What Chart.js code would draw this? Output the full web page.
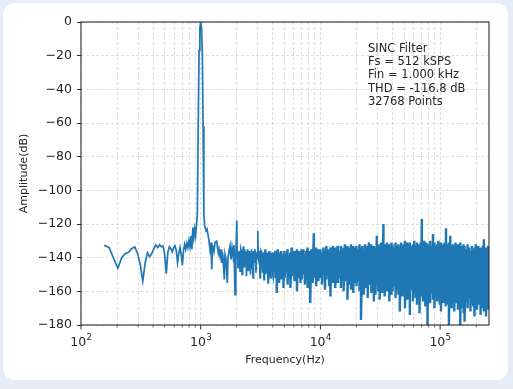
<!DOCTYPE html>
<html><head><meta charset="utf-8">
<script src="https://cdn.jsdelivr.net/npm/chart.js@4.4.1/dist/chart.umd.min.js"></script>
<style>
html,body{margin:0;padding:0;background:#e7edf6;width:513px;height:389px;overflow:hidden}
#card{position:absolute;left:3px;top:3px;width:505px;height:377px;background:#fff;border-radius:12px}
#wrap{position:absolute;left:0;top:0;width:513px;height:389px}
</style></head><body>
<div id="card"></div>
<div id="wrap"><canvas id="c" width="513" height="389"></canvas></div>
<script>
// ---- data ----
const fsHz = 512000, nfft = 32768;
const binHz = fsHz / nfft; // 15.625 Hz FFT bin spacing

// low-frequency FFT bins (individually visible) incl. the 1 kHz tone
const lowBins = [10,11,12,13,14,15,16,17,18,19,20,21,22,23,24,25,26,27,28,29,30,31,32,33,34,35,36,37,38,39,40,41,42,43,44,45,46,47,48,49,50,51,52,53,54,55,56,57,58,59,60,61,62,63,64,65,66,67,68,69];
const lowDb = [-132.7,-134.0,-140.5,-146.3,-140.0,-137.5,-136.8,-134.5,-133.6,-137.5,-144.0,-154.0,-143.0,-137.0,-139.5,-137.5,-134.5,-132.5,-134.0,-132.3,-133.5,-133.0,-138.0,-149.5,-137.0,-133.5,-134.5,-136.5,-134.0,-133.0,-135.5,-143.0,-137.5,-134.0,-138.0,-144.5,-136.0,-132.0,-135.0,-131.5,-134.0,-130.0,-133.5,-127.0,-135.0,-122.0,-128.0,-123.0,-127.0,-121.0,-114.0,-62.0,-17.0,-3.5,0,-3.5,-17.0,-62.0,-114.0,-121.0];

// 1.1 kHz - 4 kHz
const midHz = [1107,1129,1157,1173,1196,1219,1236,1255,1274,1292,1317,1360,1382,1403,1422,1450,1478,1498,1521,1536,1575,1596,1627,1668,1691,1724,1757,1791,1826,1862,1898,1935,1965,
 2000,2015,2030,2050,2069,2090,2109,2130,2150,2170,2192,2215,2235,2250,2269,2290,2313,2330,2345,2365,2390,2410,2437,2460,2484,2505,2532,2555,2581,2605,2632,2650,2667,2690,2709,2735,2761,2790,2815,2840,2869,2895,2925,2960,
 3000,3020,3041,3070,3099,3130,3159,3195,3233,3260,3283,3315,3347,3380,3412,3445,3478,3510,3546,3580,3615,3650,3685,3720,3756,3790,3829,3865,3904,3950];
const midDb = [-124,-123,-127.3,-130,-135.3,-131,-147,-133,-133.3,-136,-131,-130.3,-134,-137.2,-135,-139,-135,-143.2,-137,-140,-153,-138,-141,-155,-140,-136,-133,-141,-134,-139,-132.5,-162,-140,
 -118,-136,-138,-146,-142,-137,-136,-148,-141,-135,-137,-150,-143,-137,-133.3,-146,-139,-135,-145,-139,-136,-151,-141,-135,-137,-148,-142,-136,-138,-150,-140,-135,-147,-137,-139,-152,-136,-140,-143,-135,-138,-149,-140,-137,
 -124,-140,-141,-136,-139,-152,-145,-136,-137,-144,-149,-137,-139,-153,-142,-135,-136,-150,-144,-137,-140,-155,-146,-136,-138,-150,-152,-137,-140,-148];

// dense noise band above 4 kHz: per frequency slot, upper and lower extreme
const bandHz = [4000,4100,4200,4300,4400,4500,4600,4700,4800,4900,
 5000,5150,5300,5450,5600,5750,5900,6050,6200,6350,6500,6650,6800,6950,
 7000,7200,7400,7600,7800,8000,8200,8400,8600,8800,9000,9200,9400,9600,9800,
 10000,10300,10600,10900,11200,11500,11800,12100,12400,12700,13000,13300,13600,13900,
 14000,14400,14800,15200,15600,16000,16400,16800,17200,17600,18000,18400,18800,19200,19600,
 20000,20600,21200,21800,22400,23000,23600,24200,24800,25400,26000,26600,27200,27800,
 28000,28800,29600,30400,31200,32000,32800,33600,34400,35200,36000,36800,37600,38400,39200,
 40000,41200,42400,43600,44800,46000,47200,48400,49600,50800,52000,53200,54400,55600,
 56000,57600,59200,60800,62400,64000,65600,67200,68800,70400,72000,73600,75200,76800,78400,
 80000,82400,84800,87200,89600,92000,94400,96800,99200,101600,104000,106400,108800,111200,
 112000,115200,118400,121600,124800,128000,131200,134400,137600,140800,144000,147200,150400,153600,156800,
 160000,164800,169600,174400,179200,184000,188800,193600,198400,203200,208000,212800,217600,222400,227200,232000,236800,241600,246400,251200,256000];
const bandHi = [-137,-139,-136,-138,-135,-140,-137,-136,-139,-138,
 -136,-138,-135,-139,-137,-134,-138,-136,-139,-135,-137,-136,-138,-135,
 -137,-135,-138,-136,-134,-137,-136,-135,-137,-125.5,-136,-134,-137,-135,-136,
 -135,-137,-134,-136,-133,-135,-137,-134,-136,-133,-135,-134,-136,-133,
 -134,-136,-133,-135,-134,-132,-135,-133,-136,-134,-132,-135,-133,-134,-136,
 -133,-135,-132,-134,-133,-135,-132,-134,-133,-131,-134,-132,-135,-133,
 -133,-134,-127,-132,-133,-131,-134,-120,-132,-134,-131,-133,-132,-134,-131,
 -132,-134,-131,-133,-132,-134,-131,-133,-132,-130,-133,-131,-134,-132,
 -131,-133,-132,-130,-133,-131,-132,-134,-131,-117,-132,-130,-133,-131,-132,
 -132,-130,-133,-126,-131,-133,-132,-130,-133,-131,-132,-134,-131,-133,
 -122.5,-132,-131,-127,-133,-132,-134,-131,-133,-132,-134,-131,-133,-135,-132,
 -133,-135,-132,-134,-136,-133,-135,-134,-132,-135,-133,-136,-134,-135,-133,-129,-135,-134,-136,-133,-135];
const bandLo = [-150,-147,-152,-161,-149,-155,-148,-153,-151,-158,
 -152,-149,-156,-150,-158,-151,-147,-154,-150,-160,-152,-149,-155,-151,
 -153,-150,-156,-151,-158,-152,-167,-150,-155,-152,-149,-157,-151,-154,-150,
 -152,-156,-150,-159,-153,-151,-157,-163,-152,-155,-150,-158,-154,-151,
 -155,-152,-158,-153,-160,-154,-151,-165,-156,-153,-159,-154,-161,-155,-152,
 -157,-154,-160,-177,-156,-162,-155,-158,-164,-156,-153,-161,-157,-166,
 -158,-162,-156,-160,-165,-157,-161,-155,-163,-158,-160,-156,-166,-159,-162,
 -160,-157,-164,-159,-162,-172,-158,-163,-160,-170,-161,-165,-158,-174,
 -162,-159,-166,-161,-164,-168,-160,-173,-163,-161,-166,-162,-169,-164,-180,
 -163,-167,-161,-165,-170,-162,-166,-163,-168,-172,-164,-167,-162,-169,
 -165,-168,-180,-166,-170,-164,-172,-167,-165,-171,-168,-180,-166,-170,-173,
 -178,-166,-170,-164,-172,-167,-169,-175,-165,-171,-168,-166,-174,-170,-165,-172,-168,-175,-169,-171,-166];

// axes / ticks
const xMin = 100, xMax = 256000;
const xMajorHz = [100, 1000, 10000, 100000];
const xMinorMult = [2,3,4,5,6,7,8,9];
const yMin = -180, yMax = 0, yStep = 20;
const noteLines = ['SINC Filter','Fs = 512 kSPS','Fin = 1.000 kHz','THD = -116.8 dB','32768 Points'];

// ---- build points ----
const sparsePts = [];
lowBins.forEach((k,i)=>sparsePts.push({x:k*binHz, y:lowDb[i]}));
midHz.forEach((f,i)=>sparsePts.push({x:f, y:midDb[i]}));
const bandPts = [{x:midHz[midHz.length-1], y:midDb[midDb.length-1]}];
bandHz.forEach((f,i)=>{bandPts.push({x:f, y:bandHi[i]}); bandPts.push({x:f+binHz, y:bandLo[i]});});

const xGridHz = [];
xMajorHz.forEach(m=>{ xGridHz.push(m); xMinorMult.forEach(k=>{ if(m*k<=xMax) xGridHz.push(m*k); }); });
xGridHz.sort((a,b)=>a-b);

const FONT = "'DejaVu Sans', sans-serif";
const TXT = '#262626';
const BLUE = '#1f77b4';

const deco = {
  id:'deco',
  afterDatasetsDraw(chart){
    const {ctx, chartArea:a, scales:{x}} = chart;
    ctx.save();
    ctx.strokeStyle = '#2b2b2b'; ctx.lineWidth = 1.1;
    ctx.strokeRect(a.left, a.top, a.right-a.left, a.bottom-a.top);
    xGridHz.forEach(v=>{
      const px = x.getPixelForValue(v);
      const major = xMajorHz.includes(v);
      ctx.lineWidth = major ? 1 : 0.7;
      ctx.beginPath(); ctx.moveTo(px, a.bottom); ctx.lineTo(px, a.bottom + (major?4.5:2.5)); ctx.stroke();
    });
    ctx.fillStyle = TXT; ctx.textBaseline = 'alphabetic'; ctx.textAlign = 'left';
    xMajorHz.forEach(v=>{
      const px = x.getPixelForValue(v);
      const e = String(Math.round(Math.log10(v)));
      ctx.font = '12.5px ' + FONT; const wb = ctx.measureText('10').width;
      ctx.font = '8.8px ' + FONT; const we = ctx.measureText(e).width;
      const x0 = px - (wb+we)/2;
      ctx.font = '12.5px ' + FONT; ctx.fillText('10', x0, 346);
      ctx.font = '8.8px ' + FONT; ctx.fillText(e, x0+wb+0.3, 339.8);
    });
    ctx.font = '11.5px ' + FONT; ctx.textBaseline = 'middle';
    noteLines.forEach((t,i)=>ctx.fillText(t, 368, 49 + i*13.25));
    ctx.restore();
  }
};

new Chart(document.getElementById('c'), {
  type:'line',
  data:{ datasets:[
    { data: sparsePts, borderColor:BLUE, borderWidth:1.7, pointRadius:0, tension:0, fill:false },
    { data: bandPts, borderColor:BLUE, borderWidth:2.4, pointRadius:0, tension:0, fill:false }
  ] },
  options:{
    responsive:false, devicePixelRatio:1, animation:false, events:[],
    layout:{ padding:{ left:0, right:24, top:22, bottom:0 } },
    plugins:{ legend:{display:false}, tooltip:{enabled:false} },
    scales:{
      x:{
        type:'logarithmic', min:xMin, max:xMax,
        afterBuildTicks(s){ s.ticks = xGridHz.map(v=>({value:v, major: xMajorHz.includes(v)})); },
        afterFit(s){ s.height = 64; },
        ticks:{ display:false },
        grid:{ color:'rgba(0,0,0,0.16)', lineWidth:0.8, drawTicks:false },
        border:{ display:false, dash:[3,2] },
        title:{ display:true, text:'Frequency(Hz)', color:TXT, font:{family:FONT, size:11}, padding:{top:0, bottom:22.4} }
      },
      y:{
        type:'linear', min:yMin, max:yMax,
        afterFit(s){ s.width = 81; },
        ticks:{ stepSize:yStep, color:TXT, padding:5, font:{family:FONT, size:12.5},
          callback:v=> v===0 ? '0' : (v<0 ? '\u2212'+Math.abs(v) : String(v)) },
        grid:{ color:'rgba(0,0,0,0.16)', lineWidth:0.8, drawTicks:true, tickLength:4, tickColor:'#2b2b2b', tickWidth:1, tickBorderDash:[] },
        border:{ display:false, dash:[3,2] },
        title:{ display:true, text:'Amplitude(dB)', color:TXT, font:{family:FONT, size:11}, padding:{top:17.4, bottom:0} }
      }
    }
  },
  plugins:[deco]
});
</script>
</body></html>
